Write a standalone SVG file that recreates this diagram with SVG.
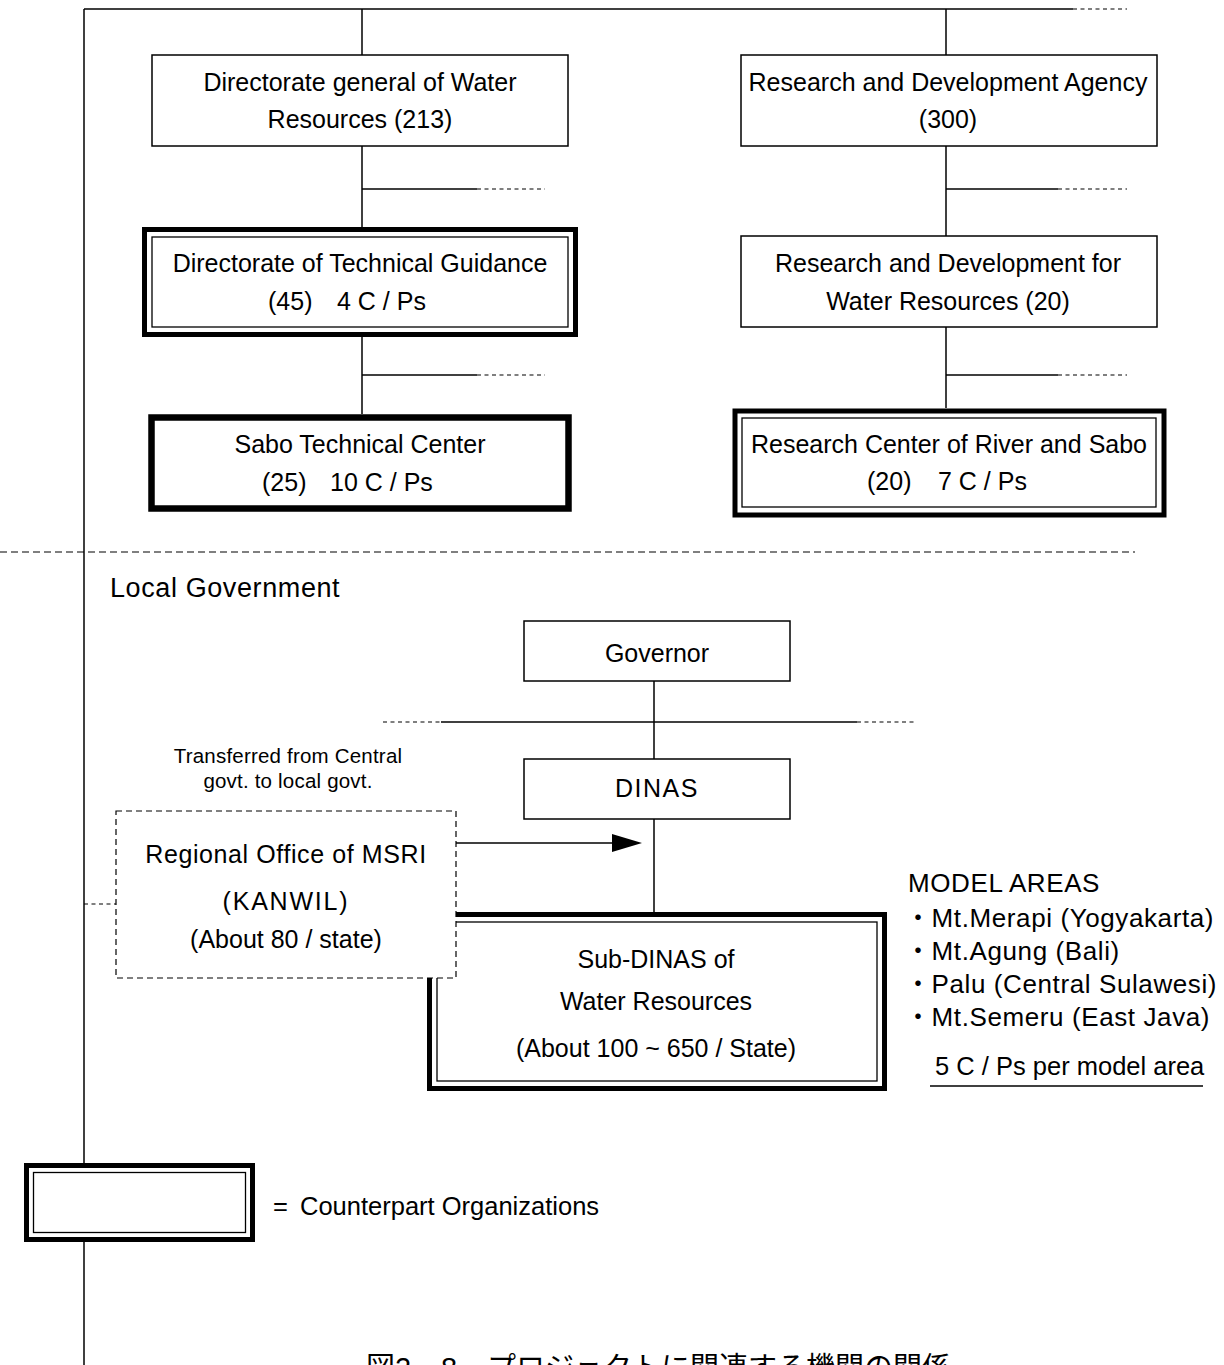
<svg xmlns="http://www.w3.org/2000/svg" width="1224" height="1365" viewBox="0 0 1224 1365">
<style>
  text { font-family: "Liberation Sans", "Noto Sans CJK JP", sans-serif; fill: #000; white-space: pre; }
  .t { font-size: 25px; text-anchor: middle; }
  .s { font-size: 25px; }
  .g { font-size: 26px; letter-spacing: 0.6px; }
  .thin { fill: #fff; stroke: #000; stroke-width: 1.5; }
  .outer { fill: #fff; stroke: #000; stroke-width: 5; }
  .inner { fill: none; stroke: #000; stroke-width: 1.3; }
  .ln { stroke: #000; stroke-width: 1.5; fill: none; }
  .dl { stroke: #000; stroke-width: 1.2; fill: none; stroke-dasharray: 4 3.5; }
  .sep { stroke: #000; stroke-width: 1.2; fill: none; stroke-dasharray: 7 4; }
</style>
<rect width="1224" height="1365" fill="#fff"/>

<g id="connectors">
  <line class="ln" x1="84" y1="9" x2="84" y2="1365"/>
  <line class="ln" x1="84" y1="9" x2="1073" y2="9"/>
  <line class="dl" x1="1073" y1="9" x2="1127" y2="9"/>
  <line class="ln" x1="362" y1="9" x2="362" y2="55"/>
  <line class="ln" x1="362" y1="146" x2="362" y2="227"/>
  <line class="ln" x1="362" y1="337" x2="362" y2="414"/>
  <line class="ln" x1="362" y1="189" x2="477" y2="189"/>
  <line class="dl" x1="477" y1="189" x2="545" y2="189"/>
  <line class="ln" x1="362" y1="375" x2="477" y2="375"/>
  <line class="dl" x1="477" y1="375" x2="545" y2="375"/>
  <line class="ln" x1="946" y1="9" x2="946" y2="55"/>
  <line class="ln" x1="946" y1="146" x2="946" y2="236"/>
  <line class="ln" x1="946" y1="327" x2="946" y2="408"/>
  <line class="ln" x1="946" y1="189" x2="1058" y2="189"/>
  <line class="dl" x1="1058" y1="189" x2="1127" y2="189"/>
  <line class="ln" x1="946" y1="375" x2="1058" y2="375"/>
  <line class="dl" x1="1058" y1="375" x2="1127" y2="375"/>
  <line class="sep" x1="0" y1="552" x2="1135" y2="552"/>
  <line class="ln" x1="654" y1="681" x2="654" y2="759"/>
  <line class="ln" x1="654" y1="819" x2="654" y2="912"/>
  <line class="dl" x1="383" y1="722" x2="441" y2="722"/>
  <line class="ln" x1="441" y1="722" x2="857" y2="722"/>
  <line class="dl" x1="857" y1="722" x2="914" y2="722"/>
  <line class="dl" x1="84" y1="904" x2="116" y2="904"/>
  <line class="ln" x1="456" y1="843" x2="614" y2="843"/>
  <polygon points="612,834 642,843 612,852" fill="#000"/>
  <line class="ln" x1="930" y1="1086" x2="1203" y2="1086"/>
</g>

<g id="dg-water">
  <rect class="thin" x="152" y="55" width="416" height="91"/>
  <text class="t" x="360" y="91">Directorate general of Water</text>
  <text class="t" x="360" y="128">Resources (213)</text>
</g>

<g id="rd-agency">
  <rect class="thin" x="741" y="55" width="416" height="91"/>
  <text class="t" x="948" y="91">Research and Development Agency</text>
  <text class="t" x="948" y="128">(300)</text>
</g>

<g id="dtg">
  <rect class="outer" x="144.5" y="229.5" width="431" height="105"/>
  <rect class="inner" x="152" y="237" width="416" height="90"/>
  <text class="t" x="360" y="272">Directorate of Technical Guidance</text>
  <text class="s" x="268" y="310">(45)<tspan x="337">4 C / Ps</tspan></text>
</g>

<g id="sabo-tc">
  <rect fill="#fff" stroke="#000" stroke-width="6.5" x="151.5" y="417.5" width="417" height="91"/>
  <text class="t" x="360" y="453">Sabo Technical Center</text>
  <text class="s" x="262" y="491">(25)<tspan x="330">10 C / Ps</tspan></text>
</g>

<g id="rd-water">
  <rect class="thin" x="741" y="236" width="416" height="91"/>
  <text class="t" x="948" y="272">Research and Development for</text>
  <text class="t" x="948" y="310">Water Resources (20)</text>
</g>

<g id="rcrs">
  <rect class="outer" stroke-width="6" x="735" y="411" width="429" height="104"/>
  <rect class="inner" x="742" y="418" width="414" height="89"/>
  <text class="t" x="949" y="453">Research Center of River and Sabo</text>
  <text class="s" x="867" y="490">(20)<tspan x="938">7 C / Ps</tspan></text>
</g>

<text x="110" y="597" style="font-size:27px;letter-spacing:0.6px">Local Government</text>

<g id="governor">
  <rect class="thin" x="524" y="621" width="266" height="60"/>
  <text class="t" x="657" y="662">Governor</text>
</g>

<g id="dinas">
  <rect class="thin" x="524" y="759" width="266" height="60"/>
  <text class="t" x="657" y="797" style="letter-spacing:1.5px">DINAS</text>
</g>

<g id="transfer-note">
  <text class="t" x="288" y="763" style="font-size:20.5px;letter-spacing:0.2px">Transferred from Central</text>
  <text class="t" x="288" y="788" style="font-size:20.5px;letter-spacing:0.2px">govt. to local govt.</text>
</g>

<g id="sub-dinas">
  <rect class="outer" x="429.5" y="914.5" width="455" height="174"/>
  <rect class="inner" x="437" y="922" width="440" height="159"/>
  <text class="t" x="656" y="968">Sub-DINAS of</text>
  <text class="t" x="656" y="1010">Water Resources</text>
  <text class="t" x="656" y="1057">(About 100 ~ 650 / State)</text>
</g>

<g id="kanwil">
  <rect fill="#fff" stroke="#000" stroke-width="1.2" stroke-dasharray="6 4" x="116" y="811" width="340" height="167"/>
  <text class="t" x="286" y="863" style="letter-spacing:0.6px">Regional Office of MSRI</text>
  <text class="t" x="286" y="910" style="letter-spacing:1.8px">(KANWIL)</text>
  <text class="t" x="286" y="948">(About 80 / state)</text>
</g>

<g id="model-areas">
  <text class="g" x="908" y="892">MODEL AREAS</text>
  <text class="g" x="905" y="927">・Mt.Merapi (Yogyakarta)</text>
  <text class="g" x="905" y="960">・Mt.Agung (Bali)</text>
  <text class="g" x="905" y="993">・Palu (Central Sulawesi)</text>
  <text class="g" x="905" y="1026">・Mt.Semeru (East Java)</text>
  <text x="935" y="1075" style="font-size:25.5px">5 C / Ps per model area</text>
</g>

<g id="legend">
  <rect class="outer" x="26.5" y="1165.5" width="226" height="74"/>
  <rect class="inner" x="33.5" y="1172.5" width="212" height="60"/>
  <text x="273" y="1215" style="font-size:25.5px">=<tspan x="300">Counterpart Organizations</tspan></text>
</g>

<text x="366" y="1378" style="font-size:29px">図<tspan x="395">2</tspan><tspan x="414">－</tspan><tspan x="441">8</tspan><tspan x="487">プロジェクトに関連する機関の関係</tspan></text>
</svg>
